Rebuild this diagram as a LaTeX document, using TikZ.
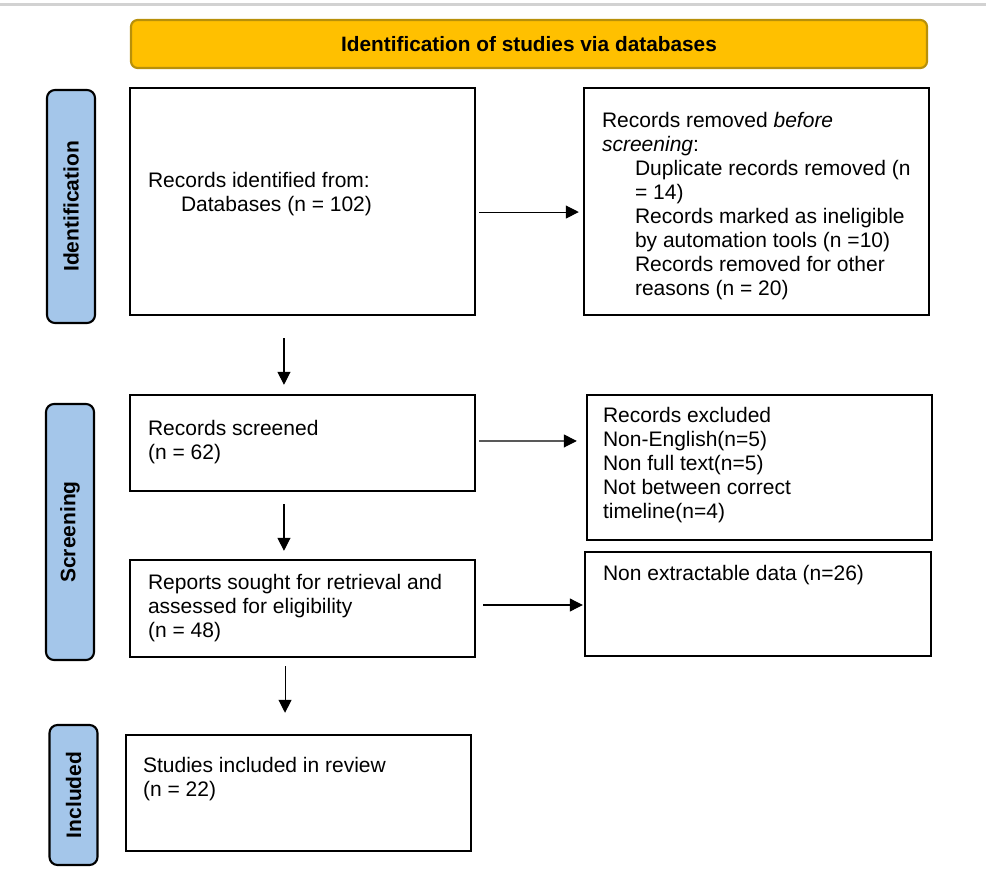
\documentclass[tikz,border=0pt]{standalone}
\usepackage{fontspec}
\setmainfont{Liberation Sans}
\usetikzlibrary{arrows.meta,positioning}

\begin{document}
\begin{tikzpicture}[x=0.75pt, y=-0.75pt,
    box/.style={draw=black, line width=1.8pt, minimum width=#1*0.75pt, inner sep=0pt},
    side/.style={draw=black, line width=1.6pt, fill=sideFill, rounded corners=6pt,
        rotate=90, minimum height=48*0.75pt, inner sep=0pt,
        font=\fontsize{15.75}{18}\selectfont\bfseries},
    txt/.style={anchor=north west, align=left, inner sep=0pt,
        font=\fontsize{15.75}{18}\selectfont},
    arr/.style={-{Triangle[length=9.75pt, width=9.75pt]}, line width=0.8pt}]

    \definecolor{barFill}{HTML}{FFC000}
    \definecolor{barBorder}{HTML}{B8900A}
    \definecolor{sideFill}{HTML}{A4C6EA}

    % Page frame
    \useasboundingbox (0,0) rectangle (986,878);
    \draw[gray!35, line width=2pt] (0,4.5) -- (986,4.5);

    % Heading
    \node[draw=barBorder, fill=barFill, line width=1.6pt, rounded corners=5pt,
        minimum width=796*0.75pt, minimum height=48*0.75pt,
        font=\fontsize{15.6}{18}\selectfont\bfseries] (head) at (529,44)
        {Identification of studies via databases};

    % Stage labels
    \node[side, minimum width=233*0.75pt] (sideId) at (71,206.5) {Identification};
    \node[side, minimum width=256*0.75pt] (sideScr) at (70,532) {Screening};
    \node[side, minimum width=140*0.75pt] (sideInc) at (73.5,795) {Included};

    % Boxes
    \node[box=345, minimum height=227*0.75pt] (ident) at (302.5,201.5) {};
    \node[box=345, minimum height=227*0.75pt] (removed) at (756.5,201.5) {};
    \node[box=345, minimum height=96*0.75pt] (screened) at (302.5,443) {};
    \node[box=345, minimum height=145*0.75pt] (excluded) at (759.5,467.5) {};
    \node[box=345, minimum height=97*0.75pt] (sought) at (302.5,608.5) {};
    \node[box=346, minimum height=104*0.75pt] (notextr) at (758,604) {};
    \node[box=345, minimum height=116*0.75pt] (included) at (298.5,793) {};

    % Box texts
    \node[txt] (identT) at ([shift={(19,85)}]ident.north west)
        {Records identified from:\\ \hspace*{24.75pt}Databases (n = 102)};
    \node[txt] (removedT) at ([shift={(19,25)}]removed.north west)
        {Records removed \emph{before}\\
         \emph{screening}:\\
         \hspace*{24.75pt}Duplicate records removed (n\\
         \hspace*{24.75pt}= 14)\\
         \hspace*{24.75pt}Records marked as ineligible\\
         \hspace*{24.75pt}by automation tools (n =10)\\
         \hspace*{24.75pt}Records removed for other\\
         \hspace*{24.75pt}reasons (n = 20)};
    \node[txt] (screenedT) at ([shift={(19,26)}]screened.north west)
        {Records screened\\ (n = 62)};
    \node[txt] (excludedT) at ([shift={(17,13)}]excluded.north west)
        {Records excluded\\ Non-English(n=5)\\ Non full text(n=5)\\
         Not between correct\\ timeline(n=4)};
    \node[txt] (soughtT) at ([shift={(19,15)}]sought.north west)
        {Reports sought for retrieval and\\ assessed for eligibility\\ (n = 48)};
    \node[txt] (notextrT) at ([shift={(19,14)}]notextr.north west)
        {Non extractable data (n=26)};
    \node[txt] (includedT) at ([shift={(18,23)}]included.north west)
        {Studies included in review\\ (n = 22)};

    % Arrows
    \draw[arr, shorten <=2.25pt, shorten >=3pt]
        ([yshift=-7.9pt]ident.east) -- ([yshift=-7.9pt]removed.west);
    \draw[arr, shorten <=2.25pt, shorten >=6.75pt]
        ([yshift=1.5pt]screened.east) -- ([yshift=19.9pt]excluded.west);
    \draw[arr, shorten <=5.25pt, shorten >=0.75pt]
        ([yshift=2.625pt]sought.east) -- ([yshift=-0.75pt]notextr.west);

    \draw[arr, shorten <=16.5pt, shorten >=6.75pt]
        ([xshift=-13.9pt]ident.south) -- ([xshift=-13.9pt]screened.north);
    \draw[arr, shorten <=9pt, shorten >=6pt]
        ([xshift=-13.9pt]screened.south) -- ([xshift=-13.9pt]sought.north);
    \draw[arr, shorten <=6pt, shorten >=15.75pt]
        ([xshift=-13.1pt]sought.south) -- ([xshift=-10.1pt]included.north);

\end{tikzpicture}
\end{document}
